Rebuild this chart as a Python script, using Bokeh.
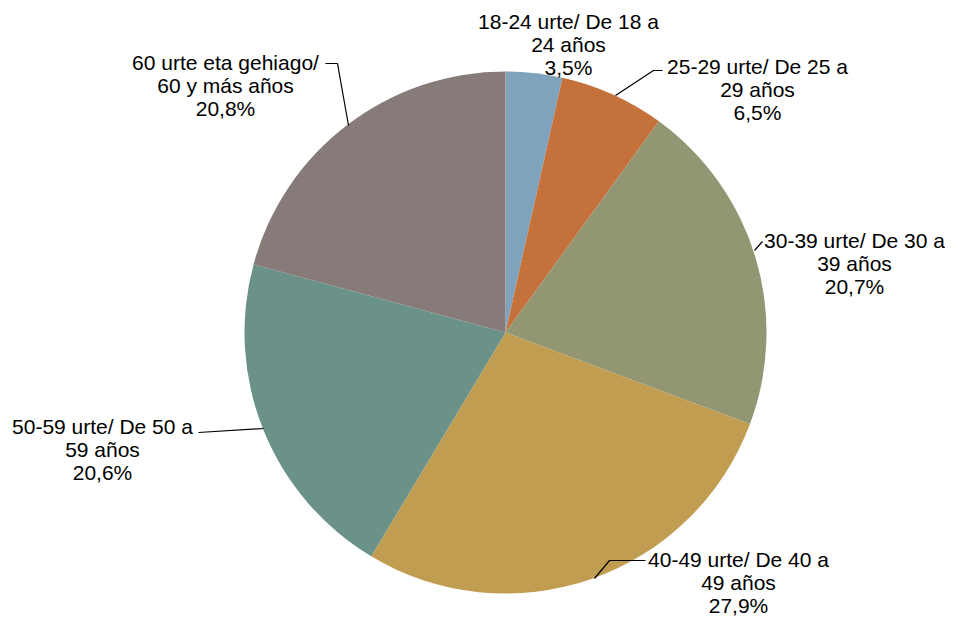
import numpy as np
from bokeh.plotting import figure
from bokeh.models import Range1d, ColumnDataSource
from bokeh.core.properties import value
from bokeh.embed import file_html
from bokeh.resources import INLINE

# --- data ---
categories = ["18-24 urte/ De 18 a\n24 años", "25-29 urte/ De 25 a\n29 años",
              "30-39 urte/ De 30 a\n39 años", "40-49 urte/ De 40 a\n49 años",
              "50-59 urte/ De 50 a\n59 años", "60 urte eta gehiago/\n60 y más años"]
shares = [3.5, 6.5, 20.7, 27.9, 20.6, 20.8]
pct_labels = ["3,5%", "6,5%", "20,7%", "27,9%", "20,6%", "20,8%"]

# --- style / layout ---
colors = ["#7FA2BD", "#C5713B", "#929672", "#C09D51", "#6A9289", "#867B79"]
W, H = 945, 625
def Y(img_y):
    return H - img_y

cx, cy, R = 505, Y(332), 261
label_x = [568, 757, 854, 738, 102, 225]
label_y = [Y(44), Y(89), Y(263), Y(582), Y(449), Y(85)]
leaders = [
    None,
    [(615, 95), (653, 70), (662, 70)],
    [(754, 250), (762, 241)],
    [(594, 578), (609, 560), (645, 560)],
    [(263, 428), (198, 432)],
    [(348, 125), (337, 63), (325, 63)],
]

vals = np.array(shares, dtype=float)
cum = np.cumsum(vals) / vals.sum()
prev = np.concatenate([[0.0], cum[:-1]])
start = np.pi / 2 - 2 * np.pi * prev
end = np.pi / 2 - 2 * np.pi * cum

p = figure(width=W, height=H, output_backend="svg", toolbar_location=None,
           x_range=Range1d(0, W), y_range=Range1d(0, H),
           min_border=0)
p.axis.visible = False
p.grid.visible = False
p.outline_line_color = None

src = ColumnDataSource(dict(start=start, end=end, color=colors))
p.wedge(x=cx, y=cy, radius=R, start_angle="start", end_angle="end",
        direction="clock", fill_color="color", line_color=None, source=src)

xs, ys = [], []
for ld in leaders:
    if ld is None:
        continue
    xs.append([pt[0] for pt in ld])
    ys.append([Y(pt[1]) for pt in ld])
p.multi_line(xs=xs, ys=ys, line_color="black", line_width=1.2)

texts = [c + "\n" + t for c, t in zip(categories, pct_labels)]
p.text(x=label_x, y=label_y, text=texts, text_align="center", text_baseline="middle",
       text_font=value("Liberation Sans"), text_font_size="21px", text_color="#000000",
       text_line_height=1.0)

open("out.html", "w").write(file_html(p, INLINE))
